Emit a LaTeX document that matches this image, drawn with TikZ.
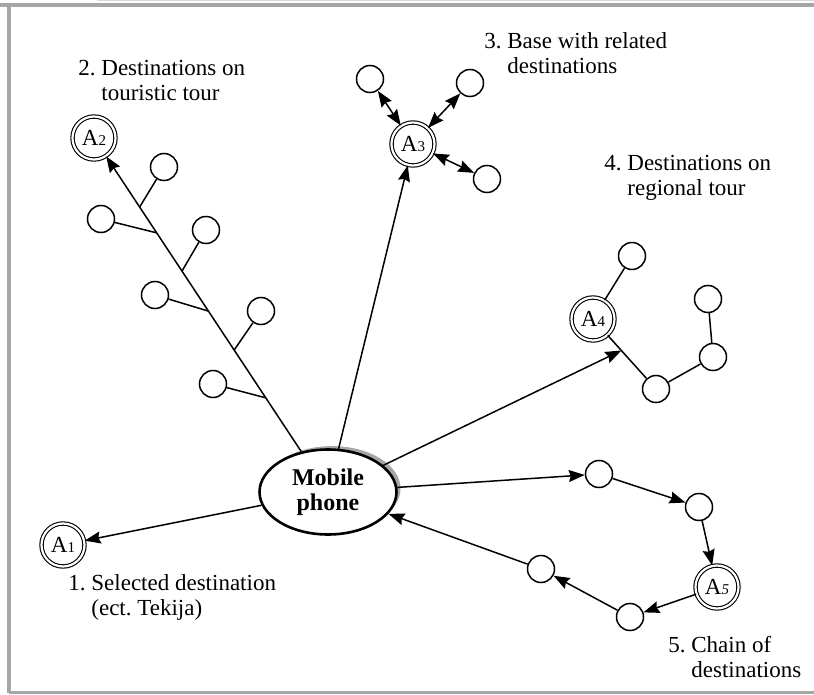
\documentclass[tikz,border=0pt]{standalone}
\usepackage{fontspec}
\setmainfont{Liberation Serif}
\usepackage{tikz}
\usetikzlibrary{arrows.meta, calc, shapes.geometric, shadows}
\definecolor{framegray}{gray}{0.65}
\definecolor{framelight}{gray}{0.85}

\tikzset{
  dest/.style={circle, draw, double, line width=0.55pt, double distance=1.1pt, minimum size=21.5pt, inner sep=0pt, fill=white, font=\fontsize{11.5}{11.5}\selectfont},
  spot/.style={circle, draw, line width=0.75pt, minimum size=13.5pt, inner sep=0pt, fill=white},
  lbl/.style={anchor=base west, inner sep=0pt, font=\fontsize{11.5}{12.5}\selectfont},
  link/.style={line width=0.75pt},
}
\newcommand{\destname}[1]{A{\fontsize{7.5}{7.5}\selectfont #1}}

\begin{document}
\begin{tikzpicture}[x=0.5pt, y=-0.5pt, >={Stealth[length=8pt, width=6pt, inset=1pt]}]
\useasboundingbox (0,0) rectangle (814,695);

% Frame
\draw[framelight, line width=0.75pt] (97,0.7) -- (814,0.7);
\draw[framegray, line width=2pt] (0,5) -- (814,5);
\draw[framegray, line width=2pt] (9,5) -- (9,692.5);
\draw[framegray, line width=1.75pt] (9,692.5) -- (814,692.5);

% Mobile phone
\node[ellipse, draw, line width=1.3pt, minimum width=68.5pt, minimum height=39pt, fill=white, align=center, font=\bfseries\fontsize{12}{12.5}\selectfont, drop shadow={shadow xshift=2pt, shadow yshift=1.7pt, fill=framegray, opacity=1}] (mobile) at (328,492) {Mobile\\phone};

% Destinations
\node[dest] (A1) at (63,545) {\destname{1}};
\node[dest] (A2) at (94,138) {\destname{2}};
\node[dest] (A3) at (413,144) {\destname{3}};
\node[dest] (A4) at (593,319) {\destname{4}};
\node[dest] (A5) at (717,587) {\destname{\itshape 5}};

%% 1. Selected destination
\draw[link, ->] (mobile) -- (A1);
\node[lbl] (lab1) at (68,590) {\begin{tabular}[t]{@{}l@{\ }l@{}}1. & Selected destination\\ & (ect.\ Tekija)\end{tabular}};

%% 2. Touristic tour
\draw[link, ->] (mobile) -- (A2);
\node[spot] (s21) at (164,167) {};
\node[spot] (s22) at (101,219) {};
\node[spot] (s23) at (206,230) {};
\node[spot] (s24) at (155,295) {};
\node[spot] (s25) at (261,311) {};
\node[spot] (s26) at (213,384) {};
\coordinate (b21) at ($(mobile)!0.805!(A2)$);
\coordinate (b22) at ($(mobile)!0.732!(A2)$);
\coordinate (b23) at ($(mobile)!0.624!(A2)$);
\coordinate (b24) at ($(mobile)!0.511!(A2)$);
\coordinate (b25) at ($(mobile)!0.401!(A2)$);
\coordinate (b26) at ($(mobile)!0.266!(A2)$);
\draw[link] (s21) -- (b21);
\draw[link] (s22) -- (b22);
\draw[link] (s23) -- (b23);
\draw[link] (s24) -- (b24);
\draw[link] (s25) -- (b25);
\draw[link] (s26) -- (b26);
\node[lbl] (lab2) at (78,76) {\begin{tabular}[t]{@{}l@{\ }l@{}}2. & Destinations on\\ & touristic tour\end{tabular}};

%% 3. Base with related destinations
\draw[link, ->] (mobile) -- (A3);
\node[spot] (s31) at (370,79) {};
\node[spot] (s32) at (470,83) {};
\node[spot] (s33) at (487,179) {};
\draw[link, <->] (A3) -- (s31);
\draw[link, <->] (A3) -- (s32);
\draw[link, <->] (A3) -- (s33);
\node[lbl] (lab3) at (484,49) {\begin{tabular}[t]{@{}l@{\ }l@{}}3. & Base with related\\ & destinations\end{tabular}};

%% 4. Regional tour
\node[spot] (s41) at (632,256) {};
\node[spot] (s42) at (656,389) {};
\node[spot] (s43) at (713,357) {};
\node[spot] (s44) at (708,299) {};
\draw[link] (A4) -- (s41);
\draw[link] (A4) -- (s42);
\draw[link] (s42) -- (s43);
\draw[link] (s43) -- (s44);
\coordinate (hit4) at ($(A4)!0.45!(s42)$);
\draw[link, ->] (mobile) -- (hit4);
\node[lbl] (lab4) at (604,171) {\begin{tabular}[t]{@{}l@{\ }l@{}}4. & Destinations on\\ & regional tour\end{tabular}};

%% 5. Chain of destinations
\node[spot] (c51) at (599,474) {};
\node[spot] (c52) at (699,507) {};
\node[spot] (c53) at (630,617) {};
\node[spot] (c54) at (541,569) {};
\draw[link, ->] (mobile) -- (c51);
\draw[link, ->] (c51) -- (c52);
\draw[link, ->] (c52) -- (A5);
\draw[link, ->] (A5) -- (c53);
\draw[link, ->] (c53) -- (c54);
\draw[link, ->] (c54) -- (mobile);
\node[lbl] (lab5) at (668,652) {\begin{tabular}[t]{@{}l@{\ }l@{}}5. & Chain of\\ & destinations\end{tabular}};

\end{tikzpicture}
\end{document}
